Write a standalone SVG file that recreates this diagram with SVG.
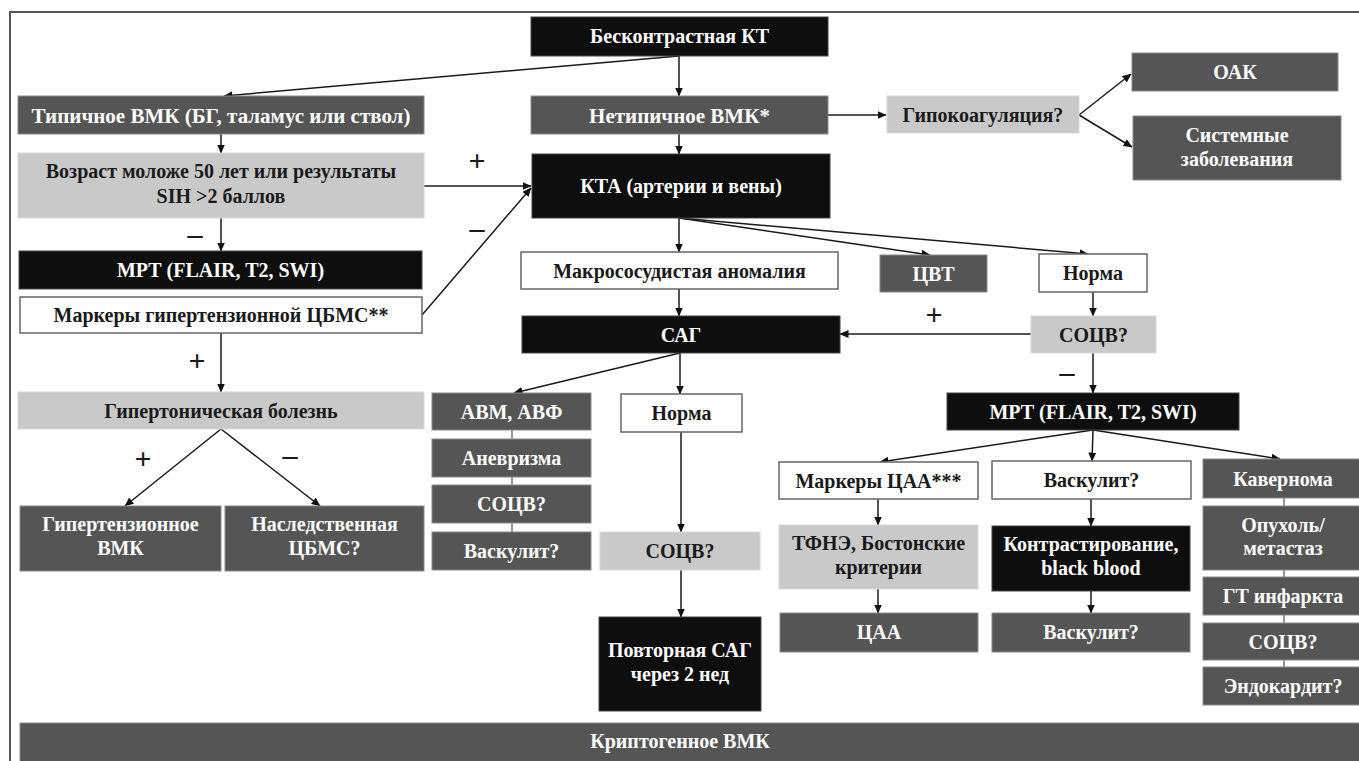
<svg xmlns="http://www.w3.org/2000/svg" width="1359" height="761" viewBox="0 0 1359 761" font-family="'Liberation Serif', 'DejaVu Serif', serif">
<defs>
<marker id="ah" markerUnits="userSpaceOnUse" markerWidth="9" markerHeight="8" refX="8.5" refY="4" orient="auto">
<path d="M0,0 L9,4 L0,8 z" fill="#111"/>
</marker>
<style>
.blk{fill:#0e0e0e;stroke:#444;stroke-width:1}
.drk{fill:#555555;stroke:#8a8a8a;stroke-width:1}
.lgt{fill:#c9c9c9;stroke:#d8d8d8;stroke-width:1}
.wht{fill:#ffffff;stroke:#666;stroke-width:1.5}
text{font-family:'Liberation Serif', serif;font-weight:700;font-size:20px;text-anchor:middle}
.tw{fill:#ffffff}
.tk{fill:#1a1a1a}
.big{font-size:21px}
.sign{font-size:30px;fill:#1a1a1a}
#connectors path{fill:none;stroke:#1a1a1a;stroke-width:1.5}
#connectors path.a{marker-end:url(#ah)}
#connectors path.s{stroke:#777;stroke-width:1.5}
</style>
</defs>
<rect width="1359" height="761" fill="#ffffff"/>
<path d="M10,761 L10,12 L1359,12" fill="none" stroke="#555" stroke-width="2"/>

<g id="connectors">
<path class="a" d="M679,56 L224,96"/>
<path class="a" d="M679,56 L679,96"/>
<path class="a" d="M221,134 L221,153"/>
<path class="a" d="M679,134 L679,154"/>
<path class="a" d="M828,115 L886,115"/>
<path class="a" d="M1079,115 L1131,74"/>
<path class="a" d="M1079,115 L1132,147"/>
<path class="a" d="M424,186 L531,186"/>
<path class="a" d="M422,315 L531,188"/>
<path class="a" d="M221,218 L221,251"/>
<path class="a" d="M679,218 L679,252"/>
<path class="a" d="M679,218 L930,255"/>
<path class="a" d="M679,218 L1088,254"/>
<path class="a" d="M679,289 L679,316"/>
<path class="a" d="M221,333 L221,392"/>
<path class="a" d="M221,429 L125,506"/>
<path class="a" d="M221,429 L320,506"/>
<path class="a" d="M1093,292 L1093,316"/>
<path class="a" d="M1031,334 L840,334"/>
<path class="a" d="M1093,353 L1093,393"/>
<path class="a" d="M680,353 L514,393"/>
<path class="a" d="M680,353 L680,394"/>
<path class="a" d="M681,432 L681,532"/>
<path class="a" d="M681,570 L681,617"/>
<path class="a" d="M1093,430 L880,462"/>
<path class="a" d="M1093,430 L1092,461"/>
<path class="a" d="M1093,430 L1280,459"/>
<path class="a" d="M878,499 L878,525"/>
<path class="a" d="M878,589 L878,613"/>
<path class="a" d="M1091,499 L1091,526"/>
<path class="a" d="M1091,591 L1091,613"/>
<path class="s" d="M512,430 L512,439 M512,477 L512,485 M512,523 L512,532"/>
<path class="s" d="M1284,498 L1284,506 M1284,570 L1284,577 M1284,615 L1284,623 M1284,660 L1284,667"/>
<text class="sign" x="477" y="171">+</text>
<text class="sign" x="195" y="244">–</text>
<text class="sign" x="477" y="238">–</text>
<text class="sign" x="197" y="371">+</text>
<text class="sign" x="143" y="469">+</text>
<text class="sign" x="290" y="465">–</text>
<text class="sign" x="934" y="325">+</text>
<text class="sign" x="1067" y="382">–</text>
</g>

<g id="n-kt"><rect class="blk" x="531" y="17" width="297" height="39"/><text class="tw" x="679.5" y="43">Бесконтрастная КТ</text></g>
<g id="n-typ"><rect class="drk" x="18" y="96" width="406" height="38"/><text class="tw big" x="221" y="122.5">Типичное ВМК (БГ, таламус или ствол)</text></g>
<g id="n-atyp"><rect class="drk" x="531" y="96" width="297" height="38"/><text class="tw big" x="679.5" y="122.5">Нетипичное ВМК*</text></g>
<g id="n-hypo"><rect class="lgt" x="887" y="96" width="192" height="37"/><text class="tk" x="983" y="121.5">Гипокоагуляция?</text></g>
<g id="n-oak"><rect class="drk" x="1132" y="53" width="206" height="38"/><text class="tw" x="1235" y="79">ОАК</text></g>
<g id="n-sys"><rect class="drk" x="1133" y="116" width="208" height="64"/><text class="tw" x="1237" y="142">Системные</text><text class="tw" x="1237" y="166">заболевания</text></g>
<g id="n-age"><rect class="lgt" x="18" y="153" width="406" height="65"/><text class="tk" x="221" y="178">Возраст моложе 50 лет или результаты</text><text class="tk" x="221" y="203">SIH &gt;2 баллов</text></g>
<g id="n-kta"><rect class="blk" x="532" y="154" width="298" height="64"/><text class="tw" x="681" y="193">КТА (артерии и вены)</text></g>
<g id="n-mri1"><rect class="blk" x="19" y="251" width="403" height="38"/><text class="tw" x="220.5" y="277">МРТ (FLAIR, T2, SWI)</text></g>
<g id="n-mark1"><rect class="wht" x="20" y="297" width="402" height="36"/><text class="tk" x="221" y="322">Маркеры гипертензионной ЦБМС**</text></g>
<g id="n-htn"><rect class="lgt" x="18" y="392" width="406" height="37"/><text class="tk" x="221" y="418">Гипертоническая болезнь</text></g>
<g id="n-hvmk"><rect class="drk" x="20" y="506" width="201" height="65"/><text class="tw" x="120.5" y="531">Гипертензионное</text><text class="tw" x="120.5" y="555">ВМК</text></g>
<g id="n-her"><rect class="drk" x="225" y="506" width="199" height="65"/><text class="tw" x="324.5" y="531">Наследственная</text><text class="tw" x="324.5" y="555">ЦБМС?</text></g>
<g id="n-macro"><rect class="wht" x="521" y="252" width="317" height="37"/><text class="tk" x="679.5" y="277.5">Макрососудистая аномалия</text></g>
<g id="n-cvt"><rect class="drk" x="880" y="255" width="107" height="37"/><text class="tw" x="933.5" y="280.5">ЦВТ</text></g>
<g id="n-norm1"><rect class="wht" x="1039" y="254" width="108" height="38"/><text class="tk" x="1093" y="280">Норма</text></g>
<g id="n-sag"><rect class="blk" x="522" y="316" width="318" height="37"/><text class="tw" x="681" y="341.5">САГ</text></g>
<g id="n-socv1"><rect class="lgt" x="1031" y="316" width="125" height="37"/><text class="tk" x="1093.5" y="341.5">СОЦВ?</text></g>
<g id="n-mri2"><rect class="blk" x="947" y="393" width="292" height="37"/><text class="tw" x="1093" y="418.5">МРТ (FLAIR, T2, SWI)</text></g>
<g id="n-avm"><rect class="drk" x="432" y="393" width="159" height="37"/><text class="tw" x="511.5" y="418.5">АВМ, АВФ</text></g>
<g id="n-anev"><rect class="drk" x="432" y="439" width="159" height="38"/><text class="tw" x="511.5" y="465">Аневризма</text></g>
<g id="n-socv2"><rect class="drk" x="432" y="485" width="159" height="38"/><text class="tw" x="511.5" y="511">СОЦВ?</text></g>
<g id="n-vask1"><rect class="drk" x="432" y="532" width="159" height="38"/><text class="tw" x="511.5" y="558">Васкулит?</text></g>
<g id="n-norm2"><rect class="wht" x="621" y="394" width="121" height="38"/><text class="tk" x="681.5" y="420">Норма</text></g>
<g id="n-socv3"><rect class="lgt" x="600" y="532" width="160" height="38"/><text class="tk" x="680" y="558">СОЦВ?</text></g>
<g id="n-povt"><rect class="blk" x="599" y="617" width="162" height="94"/><text class="tw" x="680" y="657">Повторная САГ</text><text class="tw" x="680" y="681">через 2 нед</text></g>
<g id="n-markcaa"><rect class="wht" x="779" y="462" width="199" height="37"/><text class="tk" x="878.5" y="487.5">Маркеры ЦАА***</text></g>
<g id="n-vask2"><rect class="wht" x="992" y="461" width="199" height="38"/><text class="tk" x="1091.5" y="487">Васкулит?</text></g>
<g id="n-kav"><rect class="drk" x="1203" y="459" width="160" height="39"/><text class="tw" x="1283" y="485.5">Кавернома</text></g>
<g id="n-opuh"><rect class="drk" x="1203" y="506" width="160" height="64"/><text class="tw" x="1283" y="532">Опухоль/</text><text class="tw" x="1283" y="555">метастаз</text></g>
<g id="n-gt"><rect class="drk" x="1203" y="577" width="160" height="38"/><text class="tw" x="1283" y="603">ГТ инфаркта</text></g>
<g id="n-socv4"><rect class="drk" x="1203" y="623" width="160" height="37"/><text class="tw" x="1283" y="648.5">СОЦВ?</text></g>
<g id="n-endo"><rect class="drk" x="1203" y="667" width="160" height="38"/><text class="tw" x="1283" y="693">Эндокардит?</text></g>
<g id="n-tfne"><rect class="lgt" x="779" y="525" width="199" height="64"/><text class="tk" x="878.5" y="550">ТФНЭ, Бостонские</text><text class="tk" x="878.5" y="574">критерии</text></g>
<g id="n-kontr"><rect class="blk" x="992" y="526" width="198" height="65"/><text class="tw" x="1091" y="551">Контрастирование,</text><text class="tw" x="1091" y="575">black blood</text></g>
<g id="n-caa"><rect class="drk" x="780" y="613" width="198" height="39"/><text class="tw" x="879" y="639">ЦАА</text></g>
<g id="n-vask3"><rect class="drk" x="992" y="613" width="198" height="39"/><text class="tw" x="1091" y="639">Васкулит?</text></g>
<g id="n-crypto"><rect class="drk" x="20" y="723" width="1345" height="42"/><text class="tw" x="680" y="748">Криптогенное ВМК</text></g>
</svg>
